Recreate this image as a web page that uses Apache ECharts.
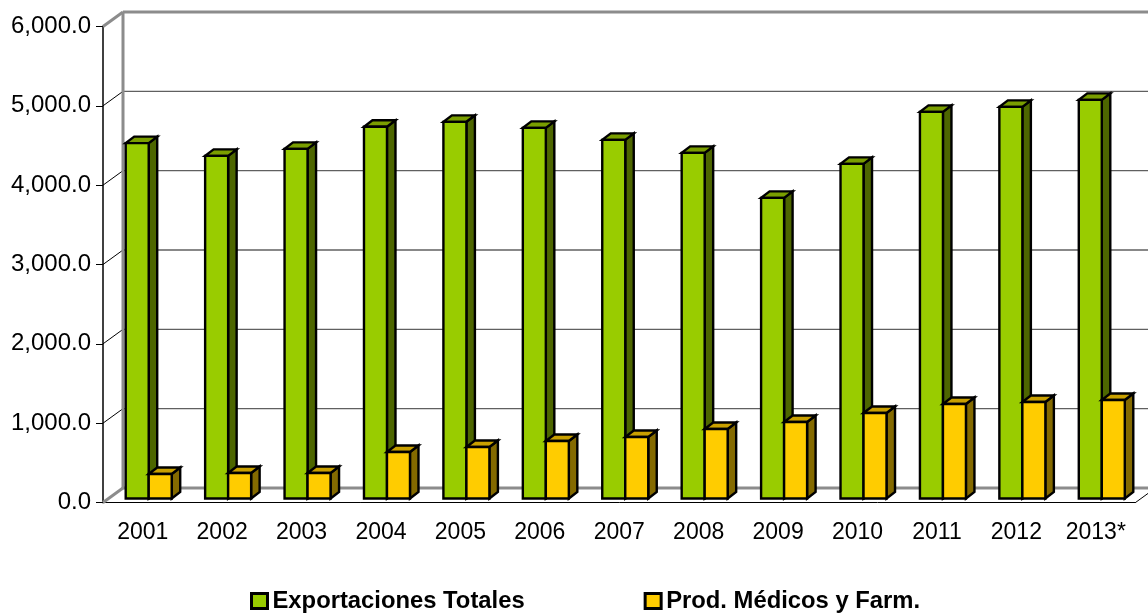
<html>
<head>
<meta charset="utf-8">
<script src="https://cdn.jsdelivr.net/npm/echarts@6/dist/echarts.min.js"></script>
<style>
  html, body { margin: 0; padding: 0; background: #fff; }
  #main { width: 1148px; height: 614px; }
</style>
</head>
<body>
<div id="main"></div>
<script>
var categories = ['2001','2002','2003','2004','2005','2006','2007','2008','2009','2010','2011','2012','2013*'];
var exportaciones = [4479,4319,4407,4685,4748,4672,4521,4357,3789,4218,4874,4937,5025];
var medicos = [309,322,322,586,650,725,775,876,965,1078,1192,1217,1242];
var yTicks = [0,1000,2000,3000,4000,5000,6000];

// fake 3D: how far the back wall and the bars sit behind the front plane
var WALL_DX = 20, WALL_DY = 14.5;
var BAR_DX = 6, BAR_DY = 4;
var DEPTH_X = 8.5, DEPTH_Y = 6.5;
var BAR_W = 23;

function poly(points, fill) {
  return {
    type: 'polygon',
    shape: { points: points },
    style: { fill: fill, stroke: '#000', lineWidth: 2.4, lineJoin: 'miter' }
  };
}

function barRenderer(offset, front, side, top) {
  return function (params, api) {
    var idx = api.value(0);
    var p0 = api.coord([idx, 0]);
    var p1 = api.coord([idx, api.value(1)]);
    var x0 = p0[0] + offset * BAR_W + BAR_DX;
    var x1 = x0 + BAR_W;
    var yb = p0[1] - BAR_DY;
    var yt = p1[1] - BAR_DY;
    return {
      type: 'group',
      children: [
        poly([[x1, yb], [x1 + DEPTH_X, yb - DEPTH_Y], [x1 + DEPTH_X, yt - DEPTH_Y], [x1, yt]], side),
        poly([[x0, yt], [x1, yt], [x1 + DEPTH_X, yt - DEPTH_Y], [x0 + DEPTH_X, yt - DEPTH_Y]], top),
        poly([[x0, yb], [x1, yb], [x1, yt], [x0, yt]], front)
      ]
    };
  };
}

function wallRenderer(params, api) {
  var v = api.value(1);
  var band = api.size([1, 0])[0];
  var p = api.coord([0, v]);
  var left = p[0] - band / 2;
  var right = api.coord([categories.length - 1, v])[0] + band / 2 + WALL_DX;
  var y = p[1];
  var edge = v === 0 || v === yTicks[yTicks.length - 1];
  var color = edge ? '#8c8c8c' : '#606060';
  var width = edge ? 3 : 1.4;
  var children = [
    { type: 'line', shape: { x1: left, y1: y, x2: left + WALL_DX, y2: y - WALL_DY },
      style: { stroke: edge ? '#8c8c8c' : '#000', lineWidth: edge ? 3 : 1 } },
    { type: 'line', shape: { x1: left + WALL_DX, y1: y - WALL_DY, x2: right, y2: y - WALL_DY },
      style: { stroke: color, lineWidth: width } }
  ];
  if (v === yTicks[yTicks.length - 1]) {
    var y0 = api.coord([0, 0])[1];
    children.push({ type: 'line',
      shape: { x1: left + WALL_DX, y1: y - WALL_DY, x2: left + WALL_DX, y2: y0 - WALL_DY },
      style: { stroke: '#8c8c8c', lineWidth: 3 } });
  }
  if (v === 0) {
    // floor edge on the right side
    children.push({ type: 'line',
      shape: { x1: right - WALL_DX, y1: y, x2: right, y2: y - WALL_DY },
      style: { stroke: '#000', lineWidth: 1 } });
  }
  return { type: 'group', children: children };
}

var chart = echarts.init(document.getElementById('main'), null, { renderer: 'canvas' });

chart.setOption({
  animation: false,
  backgroundColor: '#fff',
  textStyle: { fontFamily: 'Liberation Sans' },
  grid: { left: 103, right: 12.5, top: 26.5, bottom: 111.5, containLabel: false },
  legend: {
    left: 245, top: 584, itemWidth: 16, itemHeight: 15, itemGap: 119,
    textStyle: { fontSize: 23.8, fontWeight: 'bold', color: '#000', fontFamily: 'Liberation Sans' },
    data: [
      { name: 'Exportaciones Totales', icon: 'rect', itemStyle: { color: '#99cc00', borderColor: '#000', borderWidth: 3 } },
      { name: 'Prod. Médicos y Farm.', icon: 'rect', itemStyle: { color: '#ffcc00', borderColor: '#000', borderWidth: 3 } }
    ]
  },
  xAxis: {
    type: 'category',
    data: categories,
    boundaryGap: true,
    axisLine: { lineStyle: { color: '#000', width: 1 } },
    axisTick: { length: 9, lineStyle: { color: '#555', width: 1.5 } },
    axisLabel: { fontSize: 23, color: '#000', margin: 19, fontFamily: 'Liberation Sans' }
  },
  yAxis: {
    type: 'value',
    min: 0,
    max: 6000,
    interval: 1000,
    splitLine: { show: false },
    axisLine: { show: true, lineStyle: { color: '#404040', width: 2 } },
    axisTick: { show: true, length: 7, lineStyle: { color: '#000', width: 1 } },
    axisLabel: {
      fontSize: 24, color: '#000', margin: 12, fontFamily: 'Liberation Sans',
      formatter: function (v) {
        return v.toLocaleString('en-US', { minimumFractionDigits: 1, maximumFractionDigits: 1 });
      }
    }
  },
  series: [
    {
      name: 'walls', type: 'custom', z: 1, silent: true, clip: false,
      encode: { x: 0, y: 1 },
      data: yTicks.map(function (v) { return [0, v]; }),
      renderItem: wallRenderer
    },
    {
      name: 'Exportaciones Totales', type: 'custom', z: 2, clip: false,
      encode: { x: 0, y: 1 },
      data: exportaciones.map(function (v, i) { return [i, v]; }),
      renderItem: barRenderer(-1, '#99cc00', '#4d6600', '#7a9e00')
    },
    {
      name: 'Prod. Médicos y Farm.', type: 'custom', z: 3, clip: false,
      encode: { x: 0, y: 1 },
      data: medicos.map(function (v, i) { return [i, v]; }),
      renderItem: barRenderer(0, '#ffcc00', '#846a00', '#c9a000')
    }
  ]
});
</script>
</body>
</html>
